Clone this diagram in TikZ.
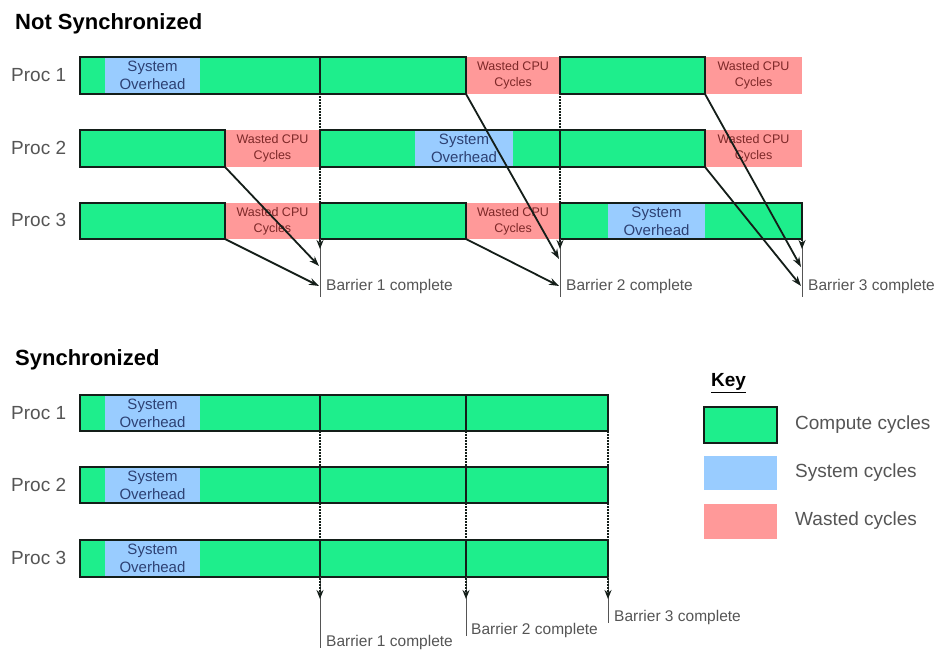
\documentclass[tikz,border=0pt]{standalone}
\usepackage{fontspec}
\setmainfont{Liberation Sans}
\usetikzlibrary{arrows.meta}
\definecolor{cgreen}{RGB}{30,238,140}
\definecolor{cblue}{RGB}{153,204,255}
\definecolor{cred}{RGB}{255,153,153}
\definecolor{ctxtblue}{RGB}{45,65,115}
\definecolor{ctxtred}{RGB}{125,40,40}
\definecolor{cgray}{RGB}{85,85,85}
\definecolor{cborder}{RGB}{20,30,25}
\newcommand\mkseg[7]{\node[#6, anchor=north west, minimum width={(#4-#2)*1pt}, minimum height={(#5-#3)*1pt}] (#1) at (#2,#3) {#7};}
\tikzset{
  seg/.style={rectangle, inner sep=0pt, outer sep=0pt},
  greenbar/.style={seg, fill=cgreen, draw=cborder, line width=2.3pt},
  bluebox/.style={seg, fill=cblue, text=ctxtblue, align=center, font=\fontsize{15}{18}\selectfont},
  plainblue/.style={seg, fill=cblue},
  redbox/.style={seg, fill=cred, text=ctxtred, align=center, font=\fontsize{12.5}{16}\selectfont},
  plainred/.style={seg, fill=cred},
  proclbl/.style={anchor=west, inner sep=0pt, text=cgray, font=\fontsize{19}{21}\selectfont},
  barlbl/.style={anchor=west, inner sep=0pt, text=cgray, font=\fontsize{15.5}{17}\selectfont},
  keylbl/.style={anchor=west, inner sep=0pt, text=cgray, font=\fontsize{19}{21}\selectfont},
  ttl/.style={anchor=base west, inner sep=0pt, text=black, font=\fontsize{22}{24}\selectfont\bfseries},
  divider/.style={line width=2.3pt, draw=cborder},
  barrier/.style={line width=1.8pt, draw=cborder, dash pattern=on 2pt off 1pt, -{Stealth[length=9pt,width=7pt]}},
  tailline/.style={line width=0.9pt, draw=cgray},
  diag/.style={line width=1.8pt, draw=cborder, -{Stealth[length=10pt,width=7pt]}},
}
\begin{document}
\begin{tikzpicture}[x=1pt,y=-1pt]
\useasboundingbox (0,0) rectangle (938,652);
\fill[white] (0,0) rectangle (938,652);

% ---------------- Not Synchronized ----------------
\node[ttl] (t1) at (15,30) {Not Synchronized};
\node[proclbl] (pa1) at (11,75) {Proc 1};
\node[proclbl] (pa2) at (11,148) {Proc 2};
\node[proclbl] (pa3) at (11,220) {Proc 3};

% wasted
\mkseg{r1a}{466}{57}{560}{94}{redbox}{Wasted CPU\\Cycles}
\mkseg{r1b}{705}{57}{802}{94}{redbox}{Wasted CPU\\Cycles}
\mkseg{r2a}{225}{130}{320}{167}{redbox}{Wasted CPU\\Cycles}
\mkseg{r2b}{705}{130}{802}{167}{redbox}{Wasted CPU\\Cycles}
\mkseg{r3a}{225}{203}{320}{239}{redbox}{Wasted CPU\\Cycles}
\mkseg{r3b}{466}{203}{560}{239}{redbox}{Wasted CPU\\Cycles}
% compute
\mkseg{g1a}{80}{57}{466}{94}{greenbar}{}
\mkseg{g1b}{560}{57}{705}{94}{greenbar}{}
\mkseg{g2a}{80}{130}{225}{167}{greenbar}{}
\mkseg{g2b}{320}{130}{705}{167}{greenbar}{}
\mkseg{g3a}{80}{203}{225}{239}{greenbar}{}
\mkseg{g3b}{320}{203}{466}{239}{greenbar}{}
\mkseg{g3c}{560}{203}{802}{239}{greenbar}{}
% system
\mkseg{s1a}{105}{58.2}{200}{92.8}{bluebox}{System\\Overhead}
\mkseg{s2a}{415}{131.2}{513}{165.8}{bluebox}{System\\Overhead}
\mkseg{s3a}{608}{204.2}{705}{237.8}{bluebox}{System\\Overhead}
% dividers
\draw[divider] (g1a.north west -| g2b.north west) -- (g1a.south west -| g2b.north west);
\draw[divider] (g2b.north west -| g1b.north west) -- (g2b.south west -| g1b.north west);

% barrier lines
\coordinate (tb1) at (320,57);  \coordinate (ab1) at (320,249); \coordinate (eb1) at (320,297);
\coordinate (tb2) at (560,57);  \coordinate (ab2) at (560,249); \coordinate (eb2) at (560,297);
\coordinate (tb3) at (802,239); \coordinate (ab3) at (802,249); \coordinate (eb3) at (802,297);
\draw[tailline] (320,239) -- (eb1);
\draw[tailline] (560,239) -- (eb2);
\draw[tailline] (tb3) -- (eb3);
\draw[barrier] (tb1) -- (ab1);
\draw[barrier] (tb2) -- (ab2);
\draw[barrier] (tb3) -- (ab3);

% arrival points
\coordinate (d1a) at (319,266); \coordinate (d1b) at (319,286);
\coordinate (d2a) at (559,259); \coordinate (d2b) at (559,286);
\coordinate (d3a) at (801,267); \coordinate (d3b) at (801,286);
\draw[diag] (g2a.south east) -- (d1a);
\draw[diag] (g3a.south east) -- (d1b);
\draw[diag] (g1a.south east) -- (d2a);
\draw[diag] (g3b.south east) -- (d2b);
\draw[diag] (g1b.south east) -- (d3a);
\draw[diag] (g2b.south east) -- (d3b);

\node[barlbl] (bl1) at (326,286) {Barrier 1 complete};
\node[barlbl] (bl2) at (566,286) {Barrier 2 complete};
\node[barlbl] (bl3) at (808,286) {Barrier 3 complete};

% ---------------- Synchronized ----------------
\node[ttl] (t2) at (15,366) {Synchronized};
\node[proclbl] (pb1) at (11,413) {Proc 1};
\node[proclbl] (pb2) at (11,485) {Proc 2};
\node[proclbl] (pb3) at (11,558) {Proc 3};

\mkseg{h1}{80}{395}{608}{431}{greenbar}{}
\mkseg{h2}{80}{467}{608}{503}{greenbar}{}
\mkseg{h3}{80}{540}{608}{577}{greenbar}{}
\mkseg{q1}{105}{396.2}{200}{429.8}{bluebox}{System\\Overhead}
\mkseg{q2}{105}{468.2}{200}{501.8}{bluebox}{System\\Overhead}
\mkseg{q3}{105}{541.2}{200}{575.8}{bluebox}{System\\Overhead}

\coordinate (sb1) at (320,395); \coordinate (sa1) at (320,599); \coordinate (se1) at (320,648);
\coordinate (sb2) at (466,395); \coordinate (sa2) at (466,599); \coordinate (se2) at (466,636);
\coordinate (sb3) at (608,395); \coordinate (sa3) at (608,599); \coordinate (se3) at (608,623);
\foreach \r in {h1,h2,h3}{
  \draw[divider] (\r.north west -| sb1) -- (\r.south west -| sb1);
  \draw[divider] (\r.north west -| sb2) -- (\r.south west -| sb2);
}
\draw[tailline] (320,577) -- (se1);
\draw[tailline] (466,577) -- (se2);
\draw[tailline] (608,577) -- (se3);
\draw[barrier] (sb1) -- (sa1);
\draw[barrier] (sb2) -- (sa2);
\draw[barrier] (sb3) -- (sa3);

\node[barlbl] (cl1) at (326,642) {Barrier 1 complete};
\node[barlbl] (cl2) at (471,630) {Barrier 2 complete};
\node[barlbl] (cl3) at (614,617) {Barrier 3 complete};

% ---------------- Key ----------------
\node[anchor=west, inner sep=0pt, font=\fontsize{19}{21}\selectfont\bfseries] (key) at (711,383) {\underline{Key}};
\mkseg{kg}{704}{407}{777}{443}{greenbar}{}
\mkseg{kb}{704}{456}{777}{490}{plainblue}{}
\mkseg{kr}{704}{504}{777}{539}{plainred}{}
\node[keylbl] (kl1) at (795,425) {Compute cycles};
\node[keylbl] (kl2) at (795,473) {System cycles};
\node[keylbl] (kl3) at (795,521) {Wasted cycles};
\end{tikzpicture}
\end{document}
